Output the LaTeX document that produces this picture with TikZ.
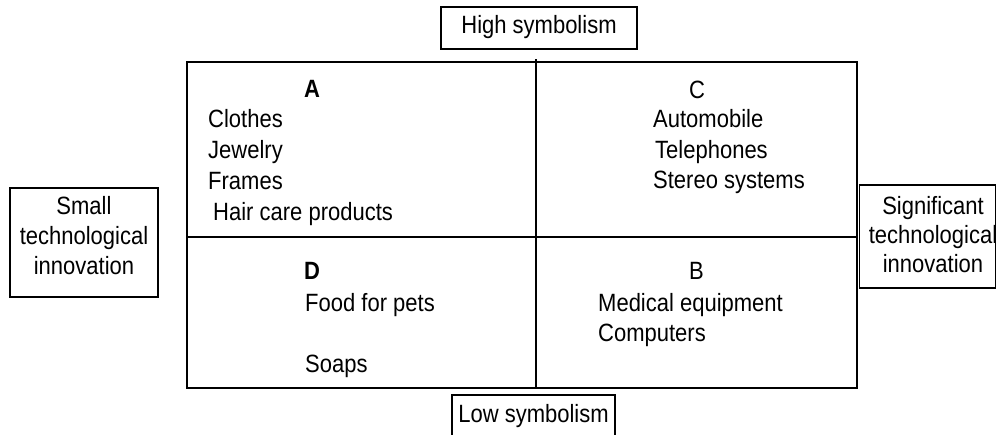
\documentclass[tikz,border=0pt]{standalone}
\usepackage{fontspec}
\setmainfont{Liberation Sans}[FakeStretch=0.88]
\begin{document}
\begin{tikzpicture}[x=1pt,y=-1pt,
  txt/.style={inner sep=0pt, font=\fontsize{25}{29}\selectfont},
  lbl/.style={txt, anchor=base west},
  ctr/.style={txt, anchor=base},
  frame/.style={draw, line width=1.5pt, inner sep=0pt},
  grid/.style={line width=1.8pt}]
\useasboundingbox (0,0) rectangle (998,434);
% main matrix
\draw[grid] (187,62) rectangle (857,388);
\coordinate (vt) at (536,59);
\coordinate (vb) at (536,388);
\coordinate (hl) at (187,237);
\coordinate (hr) at (857,237);
\draw[grid] (vt) -- (vb);
\draw[grid] (hl) -- (hr);
% axis label boxes
\node[frame, minimum width=196pt, minimum height=42pt] (hi) at (539,28) {};
\node[ctr] (hitxt) at (539,33) {High symbolism};
\node[frame, minimum width=163pt, minimum height=54pt] (lo) at (533.5,422) {};
\node[ctr] (lotxt) at (533.5,422) {Low symbolism};
\node[frame, minimum width=148pt, minimum height=109pt] (small) at (84,242.5) {};
\node[ctr] (s1) at (84,214) {Small};
\node[ctr] (s2) at (84,244) {technological};
\node[ctr] (s3) at (84,274) {innovation};
\node[frame, minimum width=136pt, minimum height=103pt] (sig) at (927.5,236.5) {};
\node[ctr] (g1) at (933,214) {Significant};
\node[ctr] (g2) at (933,243) {technological};
\node[ctr] (g3) at (933,272) {innovation};
% quadrant A
\node[lbl] (qa) at (304,97) {\bfseries A};
\node[lbl] (a1) at (208,127.5) {Clothes};
\node[lbl] (a2) at (208,158) {Jewelry};
\node[lbl] (a3) at (208,189) {Frames};
\node[lbl] (a4) at (213,220) {Hair care products};
% quadrant C
\node[lbl] (qc) at (689,98) {C};
\node[lbl] (c1) at (653,127.5) {Automobile};
\node[lbl] (c2) at (655,158) {Telephones};
\node[lbl] (c3) at (653,188) {Stereo systems};
% quadrant D
\node[lbl] (qd) at (304,279) {\bfseries D};
\node[lbl] (d1) at (305,311.5) {Food for pets};
\node[lbl] (d2) at (305,372) {Soaps};
% quadrant B
\node[lbl] (qb) at (689,279) {B};
\node[lbl] (b1) at (598,311) {Medical equipment};
\node[lbl] (b2) at (598,341) {Computers};
\end{tikzpicture}
\end{document}
